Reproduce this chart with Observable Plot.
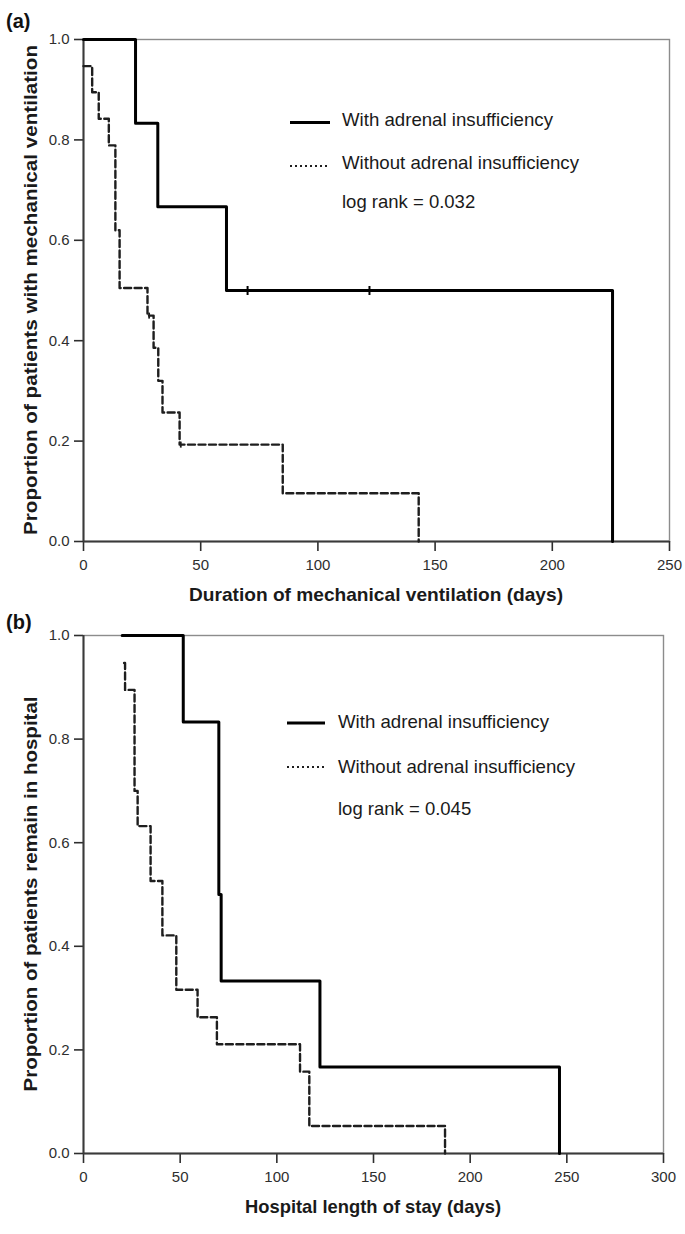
<!DOCTYPE html>
<html>
<head>
<meta charset="utf-8">
<script src="https://cdn.jsdelivr.net/npm/d3@7"></script>
<script src="https://cdn.jsdelivr.net/npm/@observablehq/plot@0.6"></script>
<style>
  body { margin: 0; background: #fff; }
  #chart svg { display: block; }
</style>
</head>
<body>
<div id="chart"></div>
<script>
// ---------- data ----------
const seriesLabels = ["With adrenal insufficiency", "Without adrenal insufficiency"];
const panelLabels = ["(a)", "(b)"];
const xTitles = ["Duration of mechanical ventilation (days)", "Hospital length of stay (days)"];
const yTitles = ["Proportion of patients with mechanical ventilation", "Proportion of patients remain in hospital"];
const logRankText = ["log rank = 0.032", "log rank = 0.045"];
const yTicks = [0, 0.2, 0.4, 0.6, 0.8, 1.0];
const xTicksA = [0, 50, 100, 150, 200, 250];
const xTicksB = [0, 50, 100, 150, 200, 250, 300];

// Panel (a): duration of mechanical ventilation
const ventWithTime = [0, 22.2, 31.7, 61, 225.7];
const ventWithSurv = [1.0, 0.833, 0.667, 0.5, 0];
const ventWithCensorTime = [70, 122];
const ventWithCensorSurv = [0.5, 0.5];
const ventWithoutTime = [0, 3.7, 6.5, 10.8, 13.6, 15.4, 27.3, 29.9, 31.9, 33.7, 41, 85, 143];
const ventWithoutSurv = [0.947, 0.895, 0.842, 0.789, 0.62, 0.505, 0.45, 0.386, 0.32, 0.257, 0.193, 0.096, 0];
const ventWithoutCensorTime = [28, 41.5];
const ventWithoutCensorSurv = [0.45, 0.193];

// Panel (b): hospital length of stay
const stayWithTime = [20, 51.6, 70, 71.2, 122.3, 246.2];
const stayWithSurv = [1.0, 0.833, 0.5, 0.333, 0.167, 0];
const stayWithoutTime = [21, 21.5, 26.4, 28, 34.7, 40.8, 48, 59, 69, 112, 116.8, 187];
const stayWithoutSurv = [0.947, 0.895, 0.70, 0.632, 0.526, 0.421, 0.316, 0.263, 0.211, 0.158, 0.053, 0];

// ---------- drawing ----------
const FONT = '"Liberation Sans", Arial, Helvetica, sans-serif';
const rows = (t, s) => t.map((d, i) => ({x: d, y: s[i]}));
const censorSymbol = {
  draw(ctx, size) {
    const r = Math.sqrt(size / Math.PI);
    ctx.moveTo(0, -r);
    ctx.lineTo(0, r);
  }
};

function panel(cfg) {
  const marks = [
    Plot.frame({stroke: "#8c8c8c", strokeWidth: 1.4}),
    Plot.axisX({ticks: cfg.xTicks, tickSize: 10, tickPadding: 8, label: null, strokeWidth: 1.6}),
    Plot.axisY({ticks: yTicks, tickFormat: d3.format(".1f"), tickSize: 9, tickPadding: 5, label: null, strokeWidth: 1.6}),
    Plot.ruleY([0], {stroke: "#3a3a3a", strokeWidth: 2}),
    Plot.ruleX([0], {stroke: "#3a3a3a", strokeWidth: 2}),
    Plot.line(rows(cfg.woT, cfg.woS), {x: "x", y: "y", curve: "step-after", stroke: "#1e1e1e", strokeWidth: 2.4, strokeDasharray: "7,3.5"}),
    Plot.line(rows(cfg.wT, cfg.wS), {x: "x", y: "y", curve: "step-after", stroke: "#000", strokeWidth: 3})
  ];
  if (cfg.wcT) marks.push(Plot.dot(rows(cfg.wcT, cfg.wcS), {x: "x", y: "y", symbol: censorSymbol, r: 4.5, stroke: "#000", strokeWidth: 2}));
  if (cfg.wocT) marks.push(Plot.dot(rows(cfg.wocT, cfg.wocS), {x: "x", y: "y", symbol: censorSymbol, r: 3, stroke: "#1e1e1e", strokeWidth: 1.8}));

  const svg = Plot.plot({
    width: 685,
    height: cfg.height,
    marginTop: cfg.mt,
    marginBottom: cfg.mb,
    marginLeft: 83,
    marginRight: cfg.mr,
    style: {fontFamily: FONT, fontSize: "15px", background: "#fff", color: "#2e2e2e"},
    x: {domain: [0, cfg.xmax]},
    y: {domain: [0, 1]},
    marks
  });

  const s = d3.select(svg);
  const W = 685, H = cfg.height;
  const left = 83, right = W - cfg.mr, top = cfg.mt, bottom = H - cfg.mb;

  // panel label
  s.append("text").attr("x", 6).attr("y", cfg.labelY)
    .attr("text-anchor", "start")
    .attr("font-family", FONT).attr("font-weight", "bold").attr("font-size", 20).attr("fill", "#111")
    .text(cfg.label);

  // x title
  s.append("text").attr("x", (left + right) / 2).attr("y", bottom + 60)
    .attr("text-anchor", "middle")
    .attr("font-family", FONT).attr("font-weight", "bold").attr("font-size", 18.5).attr("fill", "#1a1a1a")
    .attr("textLength", cfg.xTitleLen).attr("lengthAdjust", "spacingAndGlyphs")
    .text(cfg.xTitle);

  // y title
  s.append("text")
    .attr("transform", `translate(37,${(top + bottom) / 2}) rotate(-90)`)
    .attr("text-anchor", "middle")
    .attr("font-family", FONT).attr("font-weight", "bold").attr("font-size", 19).attr("fill", "#1a1a1a")
    .attr("textLength", cfg.yTitleLen).attr("lengthAdjust", "spacingAndGlyphs")
    .text(cfg.yTitle);

  // legend
  const L = cfg.legend;
  const lg = s.append("g").attr("font-family", FONT).attr("font-size", 18.5).attr("fill", "#1a1a1a").attr("text-anchor", "start");
  lg.append("line").attr("x1", L.x0).attr("x2", L.x1).attr("y1", L.y1).attr("y2", L.y1)
    .attr("stroke", "#000").attr("stroke-width", 3);
  lg.append("line").attr("x1", L.x0).attr("x2", L.x1).attr("y1", L.y2).attr("y2", L.y2)
    .attr("stroke", "#1e1e1e").attr("stroke-width", 2.2).attr("stroke-dasharray", "2,3");
  lg.append("text").attr("x", L.tx).attr("y", L.b1).attr("textLength", 211).attr("lengthAdjust", "spacingAndGlyphs").text(seriesLabels[0]);
  lg.append("text").attr("x", L.tx).attr("y", L.b2).attr("textLength", 237).attr("lengthAdjust", "spacingAndGlyphs").text(seriesLabels[1]);
  lg.append("text").attr("x", L.tx).attr("y", L.b3).text(cfg.logRank);

  return svg;
}

const chart = document.getElementById("chart");
chart.appendChild(panel({
  height: 612, mt: 39, mb: 71, mr: 16, xmax: 250, xTicks: xTicksA,
  wT: ventWithTime, wS: ventWithSurv, wcT: ventWithCensorTime, wcS: ventWithCensorSurv,
  woT: ventWithoutTime, woS: ventWithoutSurv, wocT: ventWithoutCensorTime, wocS: ventWithoutCensorSurv,
  label: panelLabels[0], labelY: 28,
  xTitle: xTitles[0], xTitleLen: 374,
  yTitle: yTitles[0], yTitleLen: 490,
  logRank: logRankText[0],
  legend: {x0: 290, x1: 330, y1: 122.5, y2: 166, tx: 342, b1: 126, b2: 169, b3: 208}
}));
chart.appendChild(panel({
  height: 622, mt: 23, mb: 81, mr: 22, xmax: 300, xTicks: xTicksB,
  wT: stayWithTime, wS: stayWithSurv,
  woT: stayWithoutTime, woS: stayWithoutSurv,
  label: panelLabels[1], labelY: 17,
  xTitle: xTitles[1], xTitleLen: 256,
  yTitle: yTitles[1], yTitleLen: 395,
  logRank: logRankText[1],
  legend: {x0: 287, x1: 325, y1: 111, y2: 155, tx: 338, b1: 116, b2: 161, b3: 203}
}));
</script>
</body>
</html>
